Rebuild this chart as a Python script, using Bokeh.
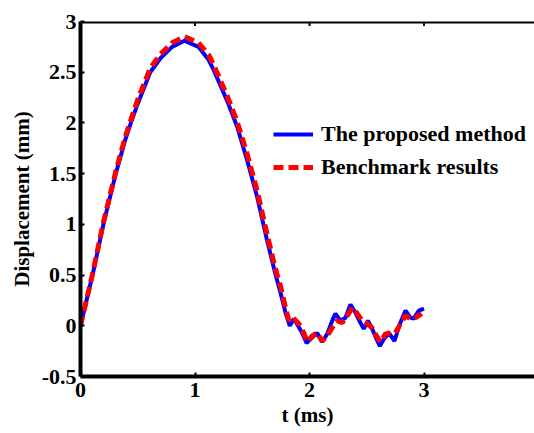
from bokeh.plotting import figure
from bokeh.models import Legend, LegendItem, FixedTicker, Range1d, Span
from bokeh.embed import file_html
from bokeh.resources import INLINE

# Data
t_prop = [0, 0.105, 0.20, 0.308, 0.39, 0.44, 0.50, 0.609, 0.70, 0.80, 0.908, 1.03, 1.12, 1.164,
          1.28, 1.369, 1.456, 1.543, 1.63, 1.70, 1.75, 1.79, 1.828, 1.863, 1.89, 1.936, 1.974, 2.009,
          2.067, 2.11, 2.155, 2.198, 2.227, 2.27, 2.314, 2.358, 2.40, 2.445, 2.474, 2.51, 2.547,
          2.585, 2.614, 2.65, 2.693, 2.742, 2.79, 2.838, 2.882, 2.91, 2.955, 3.0]
y_prop = [0, 0.50, 1.00, 1.50, 1.83, 2.00, 2.19, 2.50, 2.64, 2.75, 2.81, 2.75, 2.62, 2.52,
          2.22, 1.96, 1.63, 1.27, 0.84, 0.52, 0.31, 0.13, 0.0, 0.07, 0.02, -0.07, -0.17, -0.13,
          -0.07, -0.16, -0.08, 0.05, 0.12, 0.05, 0.08, 0.21, 0.13, 0.03, -0.03, 0.05, -0.03,
          -0.13, -0.20, -0.13, -0.07, -0.15, 0.02, 0.15, 0.08, 0.07, 0.15, 0.17]

t_bench = [0, 0.105, 0.20, 0.308, 0.39, 0.44, 0.50, 0.609, 0.70, 0.80, 0.91, 1.03, 1.12, 1.164,
           1.28, 1.369, 1.456, 1.543, 1.63, 1.70, 1.747, 1.79, 1.82, 1.857, 1.907, 1.95, 1.98,
           2.024, 2.067, 2.11, 2.155, 2.198, 2.24, 2.285, 2.33, 2.373, 2.417, 2.46, 2.504, 2.547,
           2.585, 2.62, 2.664, 2.707, 2.75, 2.795, 2.838, 2.882, 2.926, 2.98]
y_bench = [0, 0.51, 1.02, 1.52, 1.86, 2.03, 2.23, 2.54, 2.68, 2.79, 2.85, 2.79, 2.67, 2.57,
           2.27, 2.01, 1.69, 1.33, 0.90, 0.57, 0.39, 0.18, 0.05, 0.08, 0.02, -0.07, -0.16,
           -0.10, -0.07, -0.15, -0.10, -0.02, 0.05, 0.03, 0.10, 0.18, 0.12, 0.05, 0.02, -0.02,
           -0.10, -0.16, -0.08, -0.07, -0.07, 0.02, 0.10, 0.07, 0.08, 0.12]

x_ticks = [0, 1, 2, 3, 4]
y_ticks = [-0.5, 0, 0.5, 1, 1.5, 2, 2.5, 3]
y_tick_labels = {-0.5: "-0.5", 0: "0", 0.5: "0.5", 1: "1", 1.5: "1.5", 2: "2", 2.5: "2.5", 3: "3"}

FONT = "Liberation Serif"

p = figure(width=534, height=433, output_backend="svg", toolbar_location=None,
           x_range=Range1d(0, 3.965), y_range=Range1d(min(y_ticks), max(y_ticks)),
           min_border_left=80, min_border_right=0, min_border_top=21, min_border_bottom=57)
p.outline_line_color = None
p.grid.visible = False
p.background_fill_color = "white"
p.border_fill_color = "white"

def style_axis(ax, ticks):
    ax.ticker = FixedTicker(ticks=ticks)
    ax.axis_line_width = 4
    ax.axis_line_color = "black"
    ax.major_tick_in = 4
    ax.major_tick_out = 0
    ax.major_tick_line_width = 2
    ax.minor_tick_line_color = None
    ax.major_label_text_font = FONT
    ax.major_label_text_font_style = "bold"
    ax.major_label_text_font_size = "22px"
    ax.major_label_text_color = "black"
    ax.axis_label_text_font = FONT
    ax.axis_label_text_font_style = "bold"
    ax.axis_label_text_font_size = "21px"
    ax.axis_label_text_color = "black"

xa = p.xaxis[0]
style_axis(xa, x_ticks)
xa.axis_label = "t (ms)"
xa.major_label_standoff = 6
xa.axis_label_standoff = 3

ya = p.yaxis[0]
style_axis(ya, y_ticks)
ya.major_label_overrides = y_tick_labels
ya.axis_label = "Displacement (mm)"
ya.major_label_standoff = 4
ya.axis_label_standoff = 5

# top border of the box (the right side is cut off in the reference)
p.add_layout(Span(location=max(y_ticks), dimension="width", line_color="black", line_width=4))
# inward ticks on the top border
n = len(x_ticks)
p.segment(x0=x_ticks, y0=[max(y_ticks)] * n, x1=x_ticks, y1=[max(y_ticks) - 0.045] * n,
          line_color="black", line_width=2)

r1 = p.line(t_prop, y_prop, line_color="#0000ff", line_width=4)
r2 = p.line(t_bench, y_bench, line_color="#ff0000", line_width=5, line_dash="10 5")

legend = Legend(items=[LegendItem(label="The proposed method", renderers=[r1]),
                       LegendItem(label="Benchmark results", renderers=[r2])],
                location=(193, 196))
legend.border_line_alpha = 0
legend.background_fill_alpha = 0
legend.padding = 0
legend.margin = 0
legend.spacing = 7
legend.glyph_width = 40
legend.glyph_height = 24
legend.label_height = 24
legend.label_standoff = 8
legend.label_text_font = FONT
legend.label_text_font_style = "bold"
legend.label_text_font_size = "22px"
legend.label_text_color = "black"
p.add_layout(legend, "center")

open("out.html", "w").write(file_html(p, INLINE))
